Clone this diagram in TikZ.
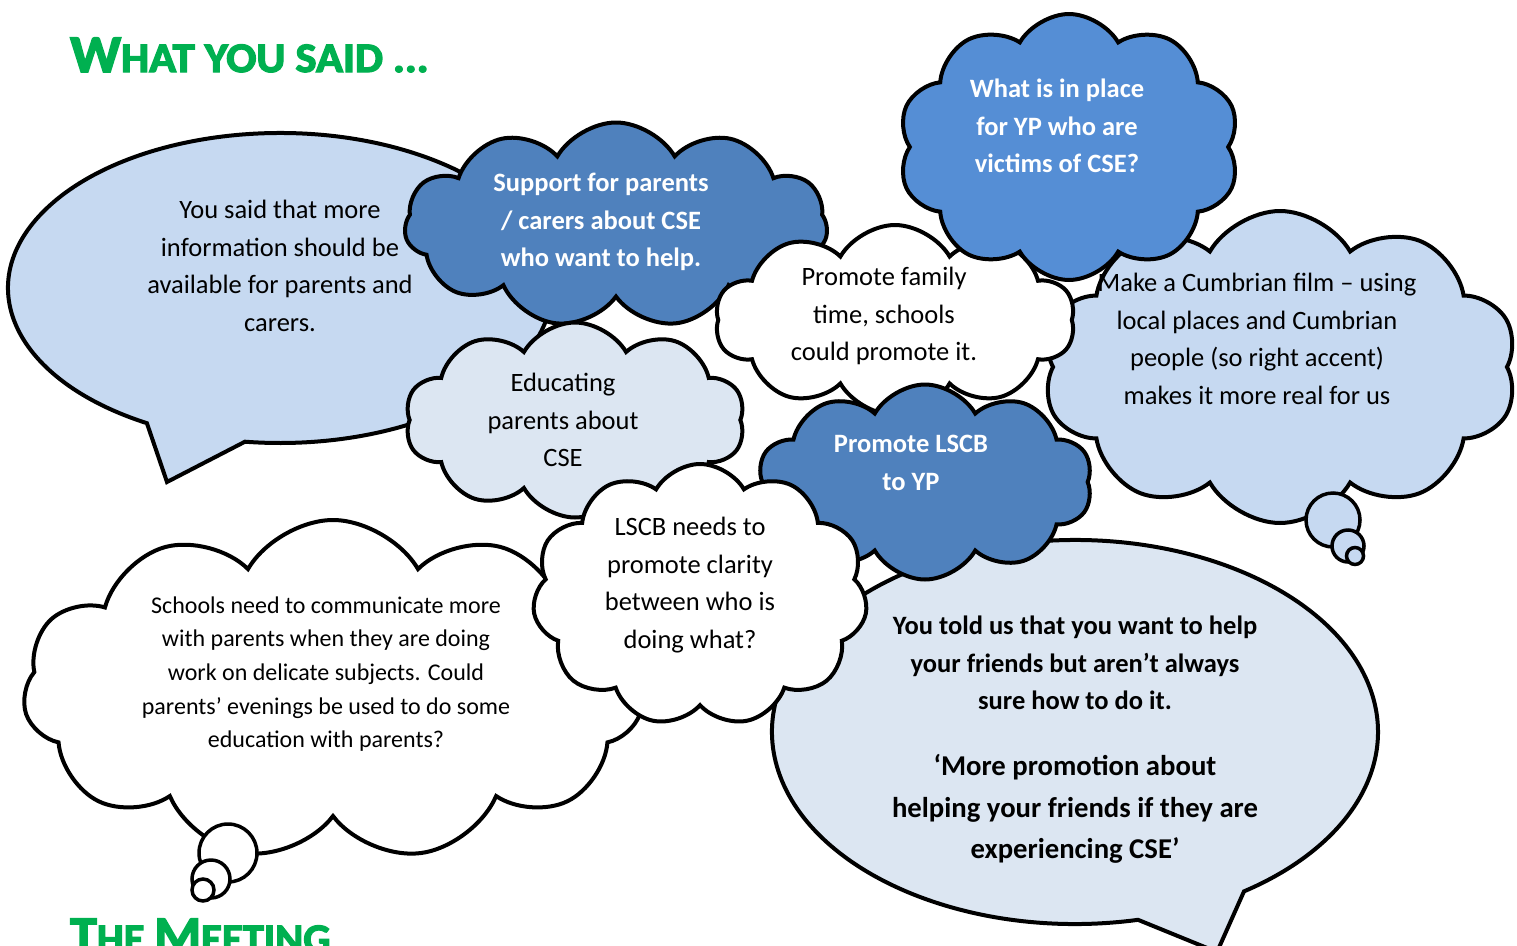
\documentclass[tikz,border=0pt]{standalone}
\usepackage{fontspec}
\setmainfont{Carlito}
\newfontface\titlefont{Carlito Bold}[FakeBold=3]
\usetikzlibrary{shapes.symbols}
\definecolor{deepblue}{HTML}{4F81BD}
\definecolor{brightblue}{HTML}{558ED5}
\definecolor{paleblue}{HTML}{C6D9F1}
\definecolor{mistblue}{HTML}{DCE6F2}
\definecolor{titlegreen}{HTML}{00B050}
\tikzset{
    puffcloud/.style={cloud, cloud puffs=10, cloud puff arc=120,
        cloud ignores aspect, draw=black, line width=4pt, inner sep=0pt},
    bubble/.style={draw=black, line width=4pt},
    saying/.style={align=center, inner sep=0pt,
        font=\fontsize{26.5}{37.7}\selectfont},
    boldsaying/.style={saying, font=\bfseries\fontsize{26.5}{37.7}\selectfont},
    tailring/.style={circle, draw=black, line width=3.5pt, inner sep=0pt},
    heading/.style={anchor=base west, inner sep=0pt, text=titlegreen}
}
\newcommand\headcap[1]{{\fontsize{53}{53}\selectfont #1}}

\begin{document}
\begin{tikzpicture}[x=1pt, y=-1pt]
    \clip (0,0) rectangle (1517,945);

    % headings
    \node[heading] (saidTitle) at (70,72)
        {\titlefont\fontsize{42}{42}\selectfont\scalebox{1.06}[1]{\headcap{W}HAT YOU SAID ...}};
    \node[heading] (meetingTitle) at (70,953)
        {\titlefont\fontsize{42}{42}\selectfont\scalebox{1.015}[1]{\headcap{T}HE \headcap{M}EETING}};

    % speech bubbles
    \coordinate (saidC) at (280,288);
    \coordinate (saidTip) at (167,482);
    \draw[bubble, fill=paleblue] (saidC) ++(119.3:272 and 155)
        arc[start angle=119.3, end angle=457.4, x radius=272, y radius=155]
        -- (saidTip) -- cycle;
    \node[saying] (saidText) at (280,266)
        {You said that more\\information should be\\available for parents and\\carers.};

    \coordinate (toldC) at (1075,732);
    \coordinate (toldTip) at (1217,952);
    \draw[bubble, fill=mistblue] (toldC) ++(78:303 and 192)
        arc[start angle=78, end angle=416.1, x radius=303, y radius=192]
        -- (toldTip) -- cycle;
    \node[boldsaying] (toldText) at (1075,663)
        {You told us that you want to help\\your friends but aren’t always\\sure how to do it.};
    \node[boldsaying, font=\bfseries\fontsize{28.7}{41.5}\selectfont] (quoteText) at (1075,809)
        {‘More promotion about\\helping your friends if they are\\experiencing CSE’};

    % thought clouds, back to front
    \node[puffcloud, fill=white, cloud puffs=11, minimum width=620, minimum height=340] (schoolsCloud) at (333,690) {};
    \node[saying, font=\fontsize{24}{33.7}\selectfont] (schoolsText) at (326,674)
        {Schools need to communicate more\\with parents when they are doing\\work on delicate subjects. Could\\parents’ evenings be used to do some\\education with parents?};
    \node[tailring, fill=white, minimum size=58] (schoolsRingA) at (228,853) {};
    \node[tailring, fill=white, minimum size=38] (schoolsRingB) at (211,879) {};
    \node[tailring, fill=white, minimum size=22] (schoolsRingC) at (203,890) {};

    \node[puffcloud, fill=deepblue, cloud puffs=11, minimum width=423, minimum height=205] (supportCloud) at (616,225) {};
    \node[boldsaying, text=white] (supportText) at (601,222)
        {Support for parents\\/ carers about CSE\\who want to help.};

    \node[puffcloud, fill=mistblue, minimum width=340, minimum height=195] (educatingCloud) at (575,420) {};
    \node[saying] (educatingText) at (563,420) {Educating\\parents about\\CSE};

    \node[puffcloud, fill=paleblue, minimum width=475, minimum height=312] (filmCloud) at (1280,367) {};
    \node[saying] (filmText) at (1257,339)
        {Make a Cumbrian film – using\\local places and Cumbrian\\people (so right accent)\\makes it more real for us};
    \node[tailring, fill=paleblue, minimum size=54] (filmRingA) at (1333,520) {};
    \node[tailring, fill=paleblue, minimum size=32] (filmRingB) at (1348,546) {};
    \node[tailring, fill=paleblue, minimum size=17] (filmRingC) at (1355,556) {};

    \node[puffcloud, fill=white, minimum width=360, minimum height=190] (familyCloud) at (895,320) {};
    \node[saying] (familyText) at (884,316) {Promote family\\time, schools\\could promote it.};

    \node[puffcloud, fill=brightblue, minimum width=342, minimum height=266] (placeCloud) at (1069,147) {};
    \node[boldsaying, text=white] (placeText) at (1057,126)
        {What is in place\\for YP who are\\victims of CSE?};

    \node[puffcloud, fill=deepblue, minimum width=335, minimum height=195] (lscbCloud) at (925,482) {};
    \node[boldsaying, text=white] (lscbText) at (911,463) {Promote LSCB\\to YP};

    \node[puffcloud, fill=white, cloud puffs=11, minimum width=335, minimum height=262] (clarityCloud) at (700,595) {};
    \node[saying] (clarityText) at (690,585)
        {LSCB needs to\\promote clarity\\between who is\\doing what?};
\end{tikzpicture}
\end{document}
